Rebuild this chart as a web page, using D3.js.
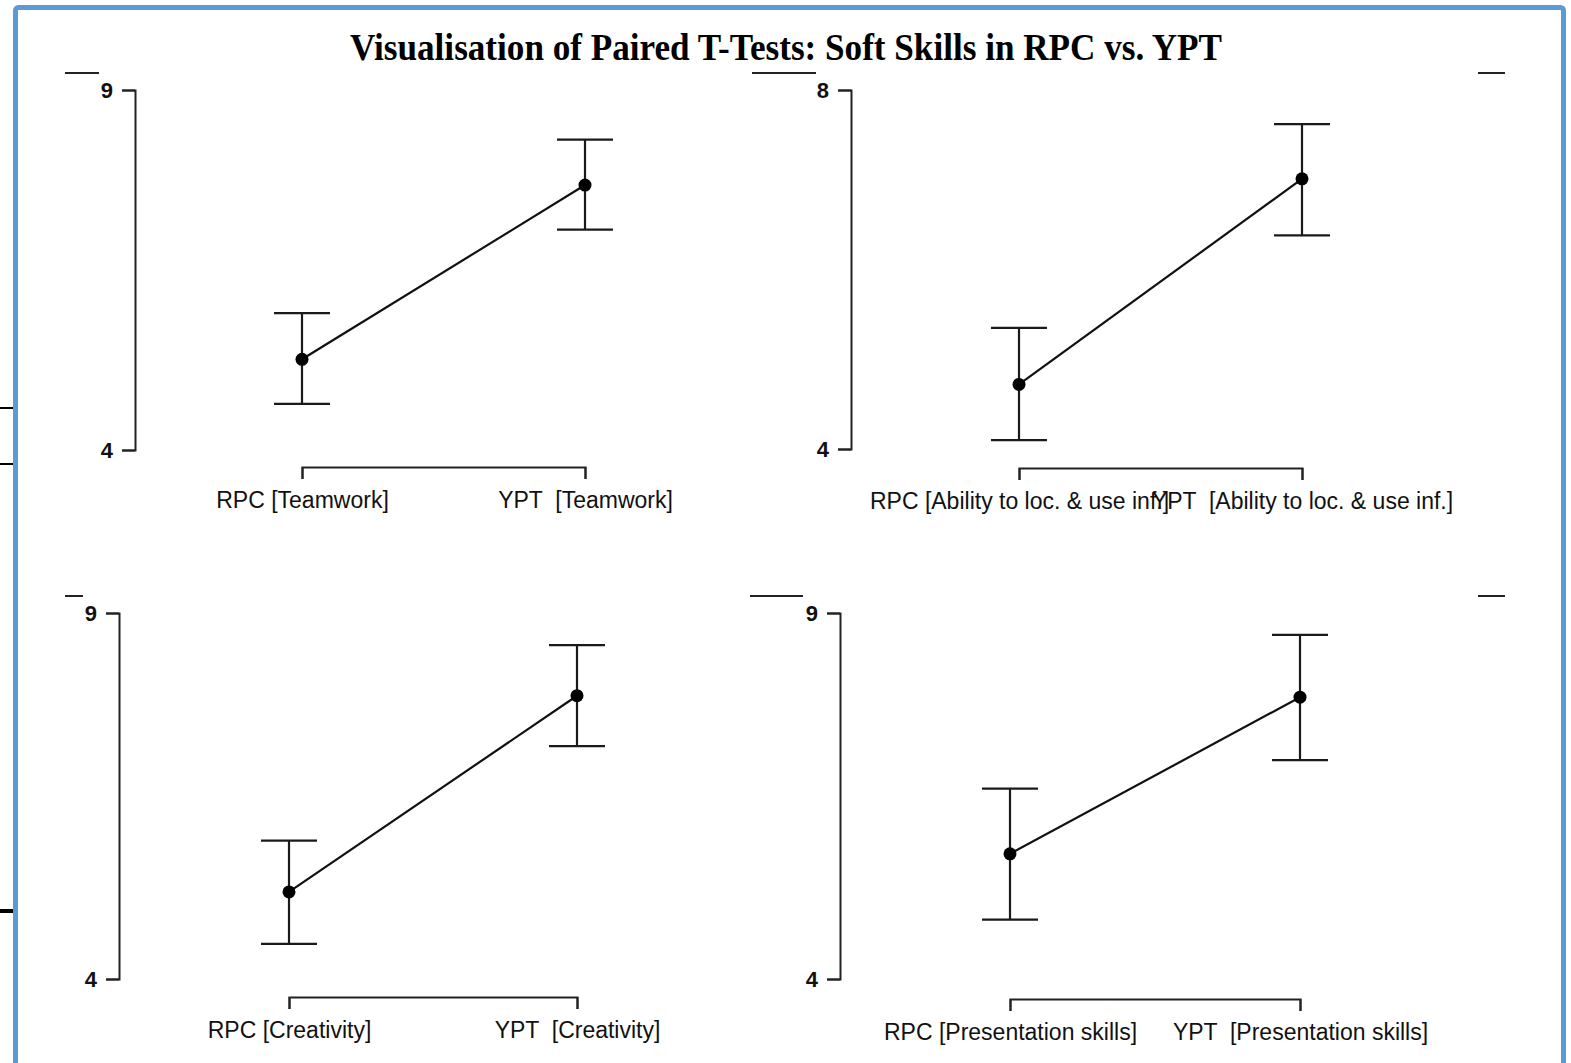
<!DOCTYPE html>
<html>
<head>
<meta charset="utf-8">
<script src="https://cdn.jsdelivr.net/npm/d3@7"></script>
<style>
  html, body { margin: 0; padding: 0; background: #fff; }
  svg { display: block; }
  .axis text { font-family: "Liberation Sans", Arial, sans-serif; font-size: 23px; fill: #111; white-space: pre; }
  .y.axis text { font-size: 22px; font-weight: bold; }
  .axis path, .axis line { stroke: #222; stroke-width: 2; }
</style>
</head>
<body>
<div id="chart"></div>
<script>
// paired t-test panels, RPC vs YPT

const title = "Visualisation of Paired T-Tests: Soft Skills in RPC vs. YPT";
const groups = ["RPC", "YPT"];
const skills = ["Teamwork", "Ability to loc. & use inf.", "Creativity", "Presentation skills"];
const rpcMean  = [5.26, 4.72, 5.19, 5.71];
const rpcLower = [4.64, 4.10, 4.48, 4.81];
const rpcUpper = [5.90, 5.35, 5.89, 6.60];
const yptMean  = [7.68, 7.01, 7.87, 7.85];
const yptLower = [7.06, 6.38, 7.18, 6.99];
const yptUpper = [8.31, 7.62, 8.56, 8.70];
const yTicks = [[4, 9], [4, 8], [4, 9], [4, 9]];

// where each panel sits on the page
const layout = [
    { axisX: 135, top: 90,  bottom: 450, left: 302,  right: 585,  bracketY: 467 },
    { axisX: 851, top: 90,  bottom: 449, left: 1019, right: 1302, bracketY: 468 },
    { axisX: 119, top: 613, bottom: 979, left: 289,  right: 577,  bracketY: 997 },
    { axisX: 840, top: 613, bottom: 979, left: 1010, right: 1300, bracketY: 999 }
];

const width = 1571, height = 1063;

let svg = d3.select("#chart")
    .append("svg")
    .attr("width", width)
    .attr("height", height);

// bits of the window behind the frame
[408, 464, 911].forEach(y => {
    svg.append("line")
        .attr("x1", 0).attr("x2", 13)
        .attr("y1", y).attr("y2", y)
        .attr("stroke", "#000")
        .attr("stroke-width", y == 911 ? 4 : 2);
});

svg.append("rect")
    .attr("x", 15.5).attr("y", 7.5)
    .attr("width", 1548).attr("height", 1120)
    .attr("rx", 3)
    .attr("fill", "#fff")
    .attr("stroke", "#5b9bd5")
    .attr("stroke-width", 5);

// stray dashes left over in the screenshot
let dashes = [[65, 99, 73], [752, 816, 73], [1478, 1505, 73], [65, 83, 596], [750, 803, 596], [1478, 1505, 596]];
dashes.forEach(d => {
    svg.append("line")
        .attr("x1", d[0]).attr("x2", d[1])
        .attr("y1", d[2]).attr("y2", d[2])
        .attr("stroke", "#222")
        .attr("stroke-width", 2);
});

svg.append("text")
    .attr("x", 786)
    .attr("y", 60)
    .attr("text-anchor", "middle")
    .attr("textLength", 872)
    .attr("lengthAdjust", "spacingAndGlyphs")
    .style("font-family", "'Liberation Serif', 'Times New Roman', serif")
    .style("font-weight", "bold")
    .style("font-size", "38px")
    .style("fill", "#000")
    .text(title);

skills.forEach((skill, i) => {
    let L = layout[i];
    let g = svg.append("g");

    let rows = [
        { group: groups[0], mean: rpcMean[i], lo: rpcLower[i], hi: rpcUpper[i] },
        { group: groups[1], mean: yptMean[i], lo: yptLower[i], hi: yptUpper[i] }
    ];

    let x = d3.scalePoint()
        .domain(groups)
        .range([L.left, L.right]);

    let y = d3.scaleLinear()
        .domain(d3.extent(yTicks[i]))
        .range([L.bottom, L.top]);

    let yAxis = d3.axisLeft(y)
        .tickValues(yTicks[i])
        .tickSize(13)
        .tickPadding(9)
        .tickFormat(d3.format("d"));

    let xAxis = d3.axisBottom(x)
        .tickSize(12)
        .tickPadding(13)
        .tickFormat(d => d + (d == "YPT" ? "  " : " ") + "[" + skill + "]");

    g.append("g")
        .attr("class", "y axis")
        .attr("transform", "translate(" + L.axisX + ",0)")
        .call(yAxis);

    g.append("g")
        .attr("class", "x axis")
        .attr("transform", "translate(0," + L.bracketY + ")")
        .call(xAxis);

    // error bars
    let bars = g.selectAll(".bar").data(rows).enter().append("g").attr("class", "bar");
    bars.append("line")
        .attr("x1", d => x(d.group)).attr("x2", d => x(d.group))
        .attr("y1", d => y(d.lo)).attr("y2", d => y(d.hi))
        .attr("stroke", "#1a1a1a").attr("stroke-width", 2.2);
    [d => d.lo, d => d.hi].forEach(f => {
        bars.append("line")
            .attr("x1", d => x(d.group) - 28).attr("x2", d => x(d.group) + 28)
            .attr("y1", d => y(f(d))).attr("y2", d => y(f(d)))
            .attr("stroke", "#1a1a1a").attr("stroke-width", 2.2);
    });

    let line = d3.line()
        .x(d => x(d.group))
        .y(d => y(d.mean));

    g.append("path")
        .datum(rows)
        .attr("d", line)
        .attr("fill", "none")
        .attr("stroke", "#111")
        .attr("stroke-width", 2.2);

    g.selectAll(".pt").data(rows).enter().append("circle")
        .attr("class", "pt")
        .attr("cx", d => x(d.group))
        .attr("cy", d => y(d.mean))
        .attr("r", 6.5)
        .attr("fill", "#000");
});
</script>
</body>
</html>
